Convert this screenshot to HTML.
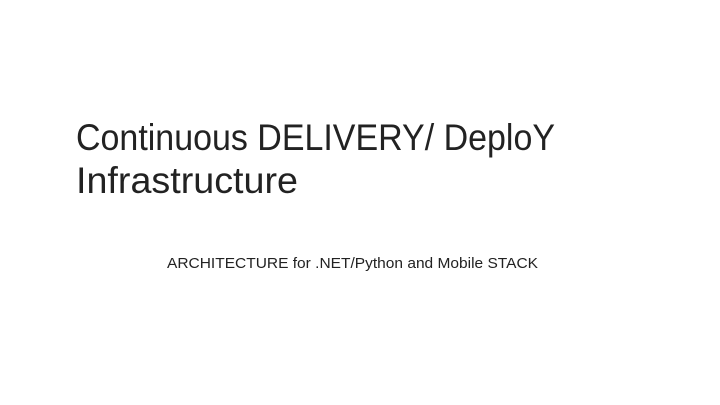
<!DOCTYPE html>
<html><head><meta charset="utf-8"><style>
html,body{margin:0;padding:0;background:#fff;width:720px;height:405px;overflow:hidden}
svg{display:block}
</style></head><body>
<svg width="720" height="405" xmlns="http://www.w3.org/2000/svg">
<rect width="720" height="405" fill="#fff"/>
<g font-family="Liberation Sans, sans-serif" fill="#222">
<text x="76" y="150" font-size="37" textLength="479" lengthAdjust="spacingAndGlyphs">Continuous DELIVERY/ DeploY</text>
<text x="76" y="193" font-size="37" textLength="222" lengthAdjust="spacingAndGlyphs">Infrastructure</text>
<text x="167" y="268" font-size="15" textLength="371" lengthAdjust="spacingAndGlyphs">ARCHITECTURE for .NET/Python and Mobile STACK</text>
</g>
</svg>
</body></html>
